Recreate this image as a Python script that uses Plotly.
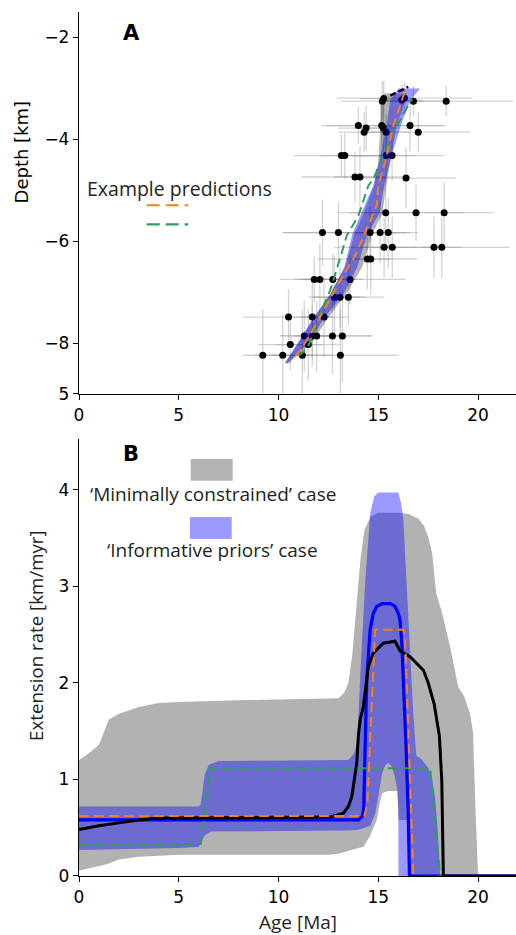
import plotly.graph_objects as go

# ---------------- Panel A data ----------------
pts_age = [15.20, 15.27, 16.18, 16.31, 16.76, 18.40,
           14.00, 14.39, 14.29, 15.17, 15.25, 15.39, 16.59, 17.00,
           13.15, 13.32, 15.39, 15.69,
           13.83, 14.08, 16.39,
           15.37, 16.89, 18.30,
           12.20, 13.00, 14.59, 15.09, 15.50,
           15.29, 15.70, 17.79, 18.18,
           14.45, 14.62,
           11.79, 12.07, 12.72, 13.58,
           12.80, 13.08, 13.50,
           10.50, 11.69, 12.28,
           11.29, 11.69, 11.91, 12.70, 13.20,
           10.59, 11.49,
           9.21, 10.21, 11.19, 13.10]
pts_depth = [-3.25, -3.20, -3.23, -3.19, -3.25, -3.25,
             -3.73, -3.78, -3.86, -3.73, -3.78, -3.86, -3.73, -3.86,
             -4.32, -4.32, -4.32, -4.32,
             -4.74, -4.74, -4.76,
             -5.44, -5.44, -5.44,
             -5.83, -5.83, -5.83, -5.83, -5.83,
             -6.12, -6.12, -6.12, -6.12,
             -6.35, -6.35,
             -6.75, -6.75, -6.75, -6.75,
             -7.10, -7.10, -7.10,
             -7.49, -7.49, -7.49,
             -7.86, -7.86, -7.86, -7.86, -7.86,
             -8.03, -8.03,
             -8.24, -8.24, -8.24, -8.24]
age_err = [2.1, 1.2, 1.0, 3.4, 1.6, 3.35,
           1.6, 1.4, 1.3, 3.05, 1.5, 1.2, 1.8, 2.6,
           2.4, 1.2, 1.5, 2.6,
           2.7, 1.3, 2.5,
           1.8, 3.9, 1.0,
           2.0, 2.8, 2.0, 1.3, 1.5,
           2.5, 1.2, 3.8, 1.0,
           2.5, 1.0,
           1.7, 1.0, 1.5, 2.8,
           1.3, 1.3, 1.8,
           2.3, 1.0, 1.2,
           1.2, 1.6, 1.0, 2.0, 1.5,
           1.6, 1.6,
           1.0, 1.4, 1.5, 2.9]
depth_err = [0.40, 0.35, 0.30, 0.30, 0.30, 0.30,
             0.36, 0.45, 0.40, 0.40, 0.45, 0.35, 0.50, 0.40,
             0.43, 0.45, 0.40, 0.50,
             0.50, 0.60, 0.60,
             0.70, 0.55, 0.60,
             0.65, 0.60, 0.50, 0.60, 0.70,
             0.60, 0.60, 0.60, 0.60,
             0.60, 0.70,
             0.45, 0.70, 0.50, 0.50,
             0.80, 0.60, 0.55,
             0.55, 0.80, 0.80,
             0.70, 0.60, 0.70, 0.75, 0.90,
             0.50, 0.70,
             0.90, 0.80, 0.90, 0.90]

# prediction bands (depth, left age, right age)
bandA_depth = [-8.39, -8.0, -7.5, -7.04, -6.5, -5.86, -5.46, -4.9, -4.42, -3.76, -3.23, -3.0]
blueA_left = [10.33, 10.95, 11.75, 12.60, 13.30, 13.70, 14.15, 14.75, 15.05, 15.40, 15.60, 16.00]
blueA_right = [10.45, 11.50, 12.30, 13.25, 13.95, 14.45, 15.05, 15.30, 15.60, 16.10, 16.60, 17.10]
grayA_depth = [-8.40, -8.0, -7.5, -7.0, -6.5, -5.86, -5.46, -4.9, -4.42, -3.76, -3.3, -3.1]
grayA_left = [10.30, 11.00, 11.80, 12.65, 13.35, 13.80, 14.25, 14.80, 15.00, 15.10, 15.10, 15.30]
grayA_right = [10.50, 11.65, 12.50, 13.45, 14.20, 14.70, 15.20, 15.40, 15.60, 15.90, 16.30, 16.40]

orangeA_age = [10.83, 11.08, 11.58, 12.17, 13.08, 13.83, 14.42, 14.92, 15.00, 15.34, 15.75, 16.26, 16.45]
orangeA_depth = [-8.25, -8.16, -7.83, -7.43, -6.78, -6.29, -5.76, -5.30, -4.90, -4.45, -3.73, -3.14, -3.00]
greenA_age = [11.0, 11.45, 12.08, 12.58, 12.92, 13.42, 14.00, 14.50, 14.75, 15.59, 16.59, 16.70]
greenA_depth = [-8.25, -8.10, -7.43, -6.97, -6.55, -5.89, -5.50, -4.91, -4.78, -3.98, -3.27, -3.20]
blackA_age = [15.60, 16.05, 16.50]
blackA_depth = [-3.14, -3.05, -2.97]

# ---------------- Panel B data ----------------
grayB_up_x = [0, 0.5, 1.0, 1.2, 1.5, 2, 3, 4, 5, 8, 12, 13, 13.3, 13.5, 13.7, 13.9, 14.1, 14.3, 14.6,
              15, 16, 16.5, 17, 17.3, 17.5, 17.7, 17.9, 18.2, 18.6, 19, 19.3, 19.6, 19.75, 19.85, 20.0]
grayB_up_y = [1.2, 1.27, 1.36, 1.46, 1.62, 1.68, 1.75, 1.79, 1.80, 1.82, 1.83, 1.84, 1.9, 2.0, 2.3, 2.79, 3.27,
              3.58, 3.72, 3.76, 3.76, 3.75, 3.70, 3.62, 3.51, 3.34, 2.93, 2.72, 2.37, 1.96, 1.86, 1.68, 1.48, 0.8, 0]
grayB_lo_x = [0, 0.5, 1, 1.5, 2, 3, 5, 12.5, 13, 13.5, 14, 14.25, 14.6, 14.92, 15.1, 15.2, 15.5, 15.95,
              16.02, 16.5, 16.52, 20.0]
grayB_lo_y = [0.055, 0.08, 0.10, 0.13, 0.17, 0.20, 0.22, 0.22, 0.23, 0.26, 0.29, 0.30, 0.42, 0.58, 0.78, 0.86,
              0.88, 0.88, 0.58, 0.58, 0, 0]
blueB_up_x = [0, 6.0, 6.1, 6.3, 6.5, 7.0, 13.5, 13.8, 13.95, 14.1, 14.35, 14.6, 14.8, 15.0, 16.0, 16.15,
              16.25, 16.4, 16.6, 16.75, 16.9, 17.2, 17.5, 17.7, 17.85, 18.0, 18.1]
blueB_up_y = [0.72, 0.72, 0.74, 1.05, 1.15, 1.19, 1.20, 1.27, 1.40, 2.10, 3.07, 3.76, 3.93, 3.97, 3.97, 3.85,
              3.70, 3.07, 2.38, 1.69, 1.25, 1.20, 1.12, 1.00, 0.80, 0.40, 0]
blueB_lo_x = [0, 5, 6.0, 6.3, 6.6, 13.5, 14.0, 14.3, 14.6, 14.85, 15.0, 15.1, 15.2, 15.35, 15.5, 15.65,
              15.8, 15.95, 16.0, 16.01, 18.1]
blueB_lo_y = [0.27, 0.29, 0.30, 0.42, 0.46, 0.47, 0.48, 0.50, 0.52, 0.65, 0.80, 0.95, 1.07, 1.15, 1.17, 1.14,
              1.05, 0.90, 0.70, 0, 0]

blackB_x = [0, 1, 2, 3, 4, 12.6, 13.25, 13.5, 13.67, 13.8, 13.92, 14.0, 14.09, 14.25, 14.38, 14.5, 14.75,
            15.25, 15.84, 16.09, 16.59, 17.26, 17.5, 17.8, 18.06, 18.18, 18.26, 22]
blackB_y = [0.48, 0.52, 0.55, 0.58, 0.60, 0.61, 0.65, 0.72, 0.82, 1.00, 1.17, 1.45, 1.62, 1.75, 2.00, 2.17,
            2.31, 2.41, 2.43, 2.33, 2.27, 2.13, 2.00, 1.78, 1.45, 0.99, 0, 0]
blueB_x = [0, 14.0, 14.2, 14.27, 14.34, 14.42, 14.59, 14.75, 14.92, 15.2, 15.6, 15.84, 16.0, 16.09, 16.18,
           16.26, 16.39, 16.5, 16.56, 22]
blueB_y = [0.58, 0.58, 0.62, 0.70, 1.34, 2.03, 2.55, 2.72, 2.79, 2.82, 2.82, 2.79, 2.72, 2.65, 2.40, 2.03,
           1.34, 0.65, 0, 0]
orangeB_x = [0, 14.3, 14.45, 14.84, 16.26, 16.34, 16.76]
orangeB_y = [0.62, 0.62, 0.75, 2.55, 2.55, 2.50, 0]
greenB_x = [0, 6.1, 6.6, 17.6, 18.1]
greenB_y = [0.33, 0.33, 1.115, 1.115, 0]

x_ticks = [0, 5, 10, 15, 20]
yA_ticks = [-9, -8, -6, -4, -2]
yA_ticktext = ["5", "\u22128", "\u22126", "\u22124", "\u22122"]
yB_ticks = [0, 1, 2, 3, 4]

GRAY_FILL = "rgba(0,0,0,0.30)"
BLUE_FILL = "rgba(0,0,255,0.40)"
ORANGE = "#ff7f0e"
GREEN = "#2ca05a"

fig = go.Figure()

# ---- Panel A ----
fig.add_trace(go.Scatter(
    x=pts_age, y=pts_depth, mode="markers", xaxis="x", yaxis="y",
    marker=dict(color="black", size=7),
    error_x=dict(type="data", array=age_err, color="rgba(150,150,150,0.42)", thickness=1.3, width=0),
    error_y=dict(type="data", array=depth_err, color="rgba(150,150,150,0.42)", thickness=1.3, width=0),
    showlegend=False, hoverinfo="skip"))

fig.add_trace(go.Scatter(
    x=grayA_left + grayA_right[::-1], y=grayA_depth + grayA_depth[::-1],
    fill="toself", fillcolor=GRAY_FILL, line=dict(width=0), mode="lines",
    xaxis="x", yaxis="y", showlegend=False, hoverinfo="skip"))
fig.add_trace(go.Scatter(
    x=blueA_left + blueA_right[::-1], y=bandA_depth + bandA_depth[::-1],
    fill="toself", fillcolor=BLUE_FILL, line=dict(width=0), mode="lines",
    xaxis="x", yaxis="y", showlegend=False, hoverinfo="skip"))
fig.add_trace(go.Scatter(x=blackA_age, y=blackA_depth, mode="lines", xaxis="x", yaxis="y",
                         line=dict(color="black", width=2.5, dash="6px,3px"), showlegend=False))
fig.add_trace(go.Scatter(x=greenA_age, y=greenA_depth, mode="lines", xaxis="x", yaxis="y",
                         line=dict(color=GREEN, width=2, dash="9px,5px"), showlegend=False))
fig.add_trace(go.Scatter(x=orangeA_age, y=orangeA_depth, mode="lines", xaxis="x", yaxis="y",
                         line=dict(color=ORANGE, width=2, dash="9px,5px"), showlegend=False))

# ---- Panel B ----
fig.add_trace(go.Scatter(
    x=grayB_up_x + grayB_lo_x[::-1], y=grayB_up_y + grayB_lo_y[::-1],
    fill="toself", fillcolor=GRAY_FILL, line=dict(width=0), mode="lines",
    xaxis="x2", yaxis="y2", showlegend=False, hoverinfo="skip"))
fig.add_trace(go.Scatter(
    x=blueB_up_x + blueB_lo_x[::-1], y=blueB_up_y + blueB_lo_y[::-1],
    fill="toself", fillcolor=BLUE_FILL, line=dict(width=0), mode="lines",
    xaxis="x2", yaxis="y2", showlegend=False, hoverinfo="skip"))
fig.add_trace(go.Scatter(x=blueB_x, y=blueB_y, mode="lines", xaxis="x2", yaxis="y2",
                         line=dict(color="#0000ff", width=3.2), showlegend=False))
fig.add_trace(go.Scatter(x=blackB_x, y=blackB_y, mode="lines", xaxis="x2", yaxis="y2",
                         line=dict(color="black", width=3), showlegend=False))
fig.add_trace(go.Scatter(x=greenB_x, y=greenB_y, mode="lines", xaxis="x2", yaxis="y2",
                         line=dict(color=GREEN, width=2, dash="10px,5px"), showlegend=False))
fig.add_trace(go.Scatter(x=orangeB_x, y=orangeB_y, mode="lines", xaxis="x2", yaxis="y2",
                         line=dict(color=ORANGE, width=2, dash="10px,5px"), showlegend=False))

tickfont = dict(family="DejaVu Sans", size=17, color="black")
axis_common = dict(showline=True, linecolor="black", linewidth=1.3, ticks="outside", ticklen=5,
                   tickwidth=1.3, tickcolor="black", showgrid=False, zeroline=False,
                   tickfont=tickfont, mirror=False)

fig.update_layout(
    width=516, height=935,
    margin=dict(l=79, r=0, t=12, b=59),
    paper_bgcolor="white", plot_bgcolor="white",
    xaxis=dict(domain=[0, 1], anchor="y", range=[0, 21.9], tickvals=x_ticks, **axis_common),
    yaxis=dict(domain=[0.5579, 1], anchor="x", range=[-9, -1.5], tickvals=yA_ticks,
               ticktext=yA_ticktext, **axis_common),
    xaxis2=dict(domain=[0, 1], anchor="y2", range=[0, 21.9], tickvals=x_ticks, **axis_common),
    yaxis2=dict(domain=[0, 0.5058], anchor="x2", range=[0, 4.524], tickvals=yB_ticks, **axis_common),
)

txt = dict(family="Open Sans", size=19, color="#231f20")
fig.add_annotation(text="<b>A</b>", xref="paper", yref="paper", x=0.119, y=0.9757,
                   xanchor="center", yanchor="middle", showarrow=False,
                   font=dict(family="DejaVu Sans", size=21, color="black"))
fig.add_annotation(text="<b>B</b>", xref="paper", yref="paper", x=0.119, y=0.4884,
                   xanchor="center", yanchor="middle", showarrow=False,
                   font=dict(family="DejaVu Sans", size=21, color="black"))
fig.add_annotation(text="Depth [km]", xref="paper", yref="paper", x=-0.131, y=0.8383,
                   xanchor="center", yanchor="middle", textangle=-90, showarrow=False,
                   font=dict(family="DejaVu Sans", size=18, color="black"))
fig.add_annotation(text="Extension rate [km/myr]", xref="paper", yref="paper", x=-0.0984, y=0.279,
                   xanchor="center", yanchor="middle", textangle=-90, showarrow=False,
                   font=dict(family="Open Sans", size=18.7, color="#231f20"))
fig.add_annotation(text="Age [Ma]", xref="paper", yref="paper", x=0.501, y=-0.0529,
                   xanchor="center", yanchor="middle", showarrow=False, font=txt)
fig.add_annotation(text="Example predictions", xref="paper", yref="paper", x=0.231, y=0.7959,
                   xanchor="center", yanchor="middle", showarrow=False,
                   font=dict(family="Open Sans", size=19.5, color="#231f20"))
fig.add_annotation(text="\u2018Minimally constrained\u2019 case", xref="paper", yref="paper",
                   x=0.3066, y=0.4421, xanchor="center", yanchor="middle", showarrow=False, font=txt)
fig.add_annotation(text="\u2018Informative priors\u2019 case", xref="paper", yref="paper",
                   x=0.3066, y=0.3773, xanchor="center", yanchor="middle", showarrow=False, font=txt)

# legend glyphs
fig.add_shape(type="line", xref="paper", yref="paper", x0=0.1549, x1=0.2501, y0=0.7763, y1=0.7763,
              line=dict(color=ORANGE, width=2, dash="13px,6px"))
fig.add_shape(type="line", xref="paper", yref="paper", x0=0.1549, x1=0.2501, y0=0.7543, y1=0.7543,
              line=dict(color=GREEN, width=2.2, dash="13px,6px"))
fig.add_shape(type="rect", xref="paper", yref="paper", x0=0.2556, x1=0.3517, y0=0.4575, y1=0.4826,
              fillcolor="#b3b3b3", line=dict(width=0))
fig.add_shape(type="rect", xref="paper", yref="paper", x0=0.2540, x1=0.3494, y0=0.3900, y1=0.4155,
              fillcolor="#9999ff", line=dict(width=0))

# remove the default page margin so the figure fills the window exactly
fig.write_html("out.html", config={"displayModeBar": False},
               post_script="document.body.style.margin='0';")
